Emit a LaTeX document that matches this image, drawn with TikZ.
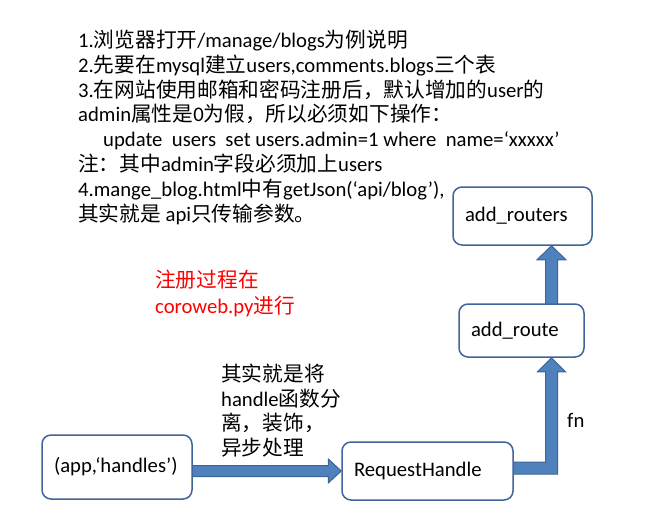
\documentclass[tikz,border=0pt]{standalone}
\usepackage{fontspec}
\setmainfont{Carlito}
\newfontfamily\cjk{Noto Sans CJK SC}
\usetikzlibrary{calc}
\pgfdeclarelayer{bg}
\pgfsetlayers{bg,main}
\definecolor{boxedge}{HTML}{41649B}
\definecolor{arrowfill}{HTML}{4F81BD}
\definecolor{arrowedge}{HTML}{3C6496}
\newcommand\zh[1]{{\cjk #1}}
\begin{document}
\begin{tikzpicture}[x=1pt,y=-1pt,
  every node/.style={font=\fontsize{20.7}{24.8}\selectfont},
  txt/.style={anchor=base west, inner sep=0pt},
  box/.style={draw=boxedge, line width=1.5pt, rounded corners=9pt, fill=white,
    inner xsep=12pt, inner ysep=0pt, align=left},
  blk/.style={fill=arrowfill, draw=arrowedge, line width=1pt, line join=miter}]
\useasboundingbox (0,0) rectangle (659,520);

% top notes
\node[txt] (t1) at (78,47.5) {1.\zh{浏览器打开}/manage/blogs\zh{为例说明}};
\node[txt] (t2) at (78,72.3) {2.\zh{先要在}mysql\zh{建立}users,comments.blogs\zh{三个表}};
\node[txt] (t3) at (78,97.1) {3.\zh{在网站使用邮箱和密码注册后，默认增加的}user\zh{的}};
\node[txt] (t4) at (78,121.9) {admin\zh{属性是}0\zh{为假，所以必须如下操作：}};
\node[txt] (t5) at (103,146.7) {update\ \ users\ \ set users.admin=1 where\ \ name=‘xxxxx’};
\node[txt] (t6) at (78,171.5) {\zh{注：其中}admin\zh{字段必须加上}users};
\node[txt] (t7) at (78,196.3) {4.mange\_blog.html\zh{中有}getJson(‘api/blog’),};
\node[txt] (t8) at (78,221.1) {\zh{其实就是} api\zh{只传输参数。}};

% red note
\node[txt, text=red] (r1) at (155,287.5) {\zh{注册过程在}};
\node[txt, text=red] (r2) at (155,313) {coroweb.py\zh{进行}};

% arrow note
\node[txt] (a1) at (221,381.5) {\zh{其实就是将}};
\node[txt] (a2) at (221,406) {handle\zh{函数分}};
\node[txt] (a3) at (221,430.5) {\zh{离，装饰，}};
\node[txt] (a4) at (221,455) {\zh{异步处理}};

% boxes
\node[box, text width=115pt, minimum height=58pt] (routers) at (522.5,216) {add\_routers};
\node[box, text width=101pt, minimum height=53pt] (route) at (521.5,330.5) {add\_route};
\node[box, text width=126pt, minimum height=64pt] (app) at (117,467) {(app,‘handles’)};
\node[box, text width=147pt, minimum height=58pt] (req) at (427.5,471) {RequestHandle};

\node[txt] (fn) at (567,427) {fn};

\coordinate (col) at (551.5,0);
\coordinate (h0) at (app.east |- req.west);
\coordinate (e0) at (col |- req.east);
\coordinate (e1) at (col |- route.south);
\coordinate (v0) at (col |- route.north);
\coordinate (v1) at (col |- routers.south);

\begin{pgfonlayer}{bg}
% app -> RequestHandle
\draw[blk] ($(h0)+(-2,-5.5)$) -- ($(req.west)+(-13,-5.5)$) -- ($(req.west)+(-13,-12)$)
  -- (req.west) -- ($(req.west)+(-13,12)$) -- ($(req.west)+(-13,5.5)$)
  -- ($(h0)+(-2,5.5)$) -- cycle;
% RequestHandle -> add_route (elbow)
\draw[blk] ($(req.east)+(-2,-9)$) -- ($(e0)+(-6,-9)$) -- ($(e1)+(-6,14)$) -- ($(e1)+(-14,14)$)
  -- (e1) -- ($(e1)+(14,14)$) -- ($(e1)+(6,14)$) -- ($(e0)+(6,3)$)
  -- ($(req.east)+(-2,3)$) -- cycle;
% add_route -> add_routers
\draw[blk] ($(v0)+(-6,2)$) -- ($(v1)+(-6,14)$) -- ($(v1)+(-14.5,14)$) -- (v1)
  -- ($(v1)+(14.5,14)$) -- ($(v1)+(6,14)$) -- ($(v0)+(6,2)$) -- cycle;
\end{pgfonlayer}
\end{tikzpicture}
\end{document}
